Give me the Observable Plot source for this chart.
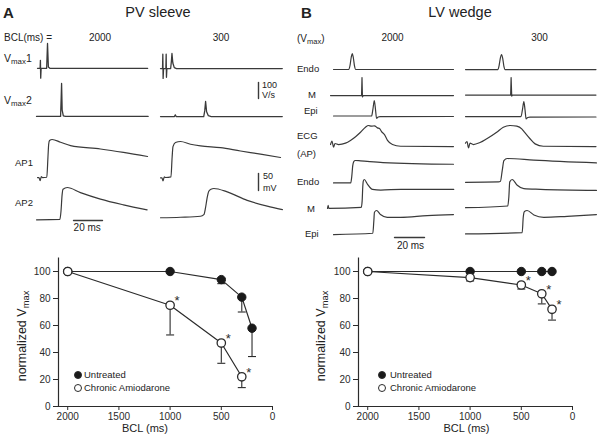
<!DOCTYPE html>
<html><head><meta charset="utf-8">
<script src="https://cdn.jsdelivr.net/npm/d3@7"></script>
<script src="https://cdn.jsdelivr.net/npm/@observablehq/plot@0.6"></script>
<style>
body{margin:0;background:#fff;}
#fig{position:relative;width:601px;height:441px;overflow:hidden;font-family:"Liberation Sans",Arial,sans-serif;color:#222;background:#fff;}
.t{position:absolute;white-space:nowrap;}
.p{position:absolute;line-height:0;}
.p svg{display:block;max-width:none;overflow:visible;}
.sub{font-size:0.75em;position:relative;top:0.3em;}
</style></head><body><div id="fig"></div>
<script>
// ================= DATA =================
const panelTitles = ["PV sleeve", "LV wedge"];
const bclColumns = ["2000", "300"];

// Panel A (PV sleeve) traces: [time (ms), value]; Vmax in V/s, AP in mV
const pvVmax1_2000 = [[0,0],[1.8,0],[2.0,50],[2.2,-62],[2.5,0],[6.3,0],[6.9,155],[7.5,8],[8.5,0],[76,0]];
const pvVmax1_300  = [[0,0],[1.4,0],[1.6,90],[1.8,-62],[2.1,0],[3.7,0],[3.9,90],[4.1,-55],[4.4,0],[7.0,0],[7.5,45],[7.9,94],[8.5,35],[9.5,6],[11,0],[84,0]];
const pvVmax2_2000 = [[0,0],[16.6,0],[17.0,110],[17.3,206],[17.7,40],[18.5,4],[20,0],[77,0]];
const pvVmax2_300  = [[0,0],[9.6,0],[10.2,10],[10.8,0],[29.8,0],[30.5,35],[31.1,94],[31.8,30],[33,5],[35,0],[84,0]];
const pvAP1_2000 = [[0,0],[1,0],[1.8,-9],[2.6,3],[3.5,0],[6.4,1],[7.2,60],[7.7,98],[8.3,109],[10.1,112],[15.9,104],[22.8,94],[43.4,84],[59.3,74],[75.9,62]];
const pvAP1_300  = [[0,0],[1,0],[1.7,-9],[2.6,3],[3.5,1],[7.2,3],[8.0,60],[8.6,92],[10.3,104],[13.8,107],[20.7,99],[27.6,94],[41.4,89],[55.2,79],[69,70],[82.8,60]];
const pvAP2_2000 = [[0,0],[16.1,1],[16.9,26],[17.6,71],[18.3,90],[21.2,95],[30.3,80],[44.1,61],[60,44],[76.3,29]];
const pvAP2_300  = [[0,0],[13.8,1.5],[27.6,4.4],[29.9,9],[31,28],[32.1,57],[33.3,78],[34.8,84],[36.8,86],[46,76],[59.8,51],[73.6,34],[84.1,24]];

// Panel B (LV wedge) traces
const lvVmaxEndo_2000 = [[0,0],[10.2,0],[11,25],[11.8,75],[12.5,100],[13.2,75],[14,22],[14.8,0],[80,0]];
const lvVmaxEndo_300  = [[0,0],[21.6,0],[22.4,25],[23.2,70],[24,94],[24.8,70],[25.6,20],[26.4,0],[87,0]];
const lvVmaxM_2000 = [[-2,0],[18.7,0],[19.0,113],[19.3,-8],[19.8,0],[80,0]];
const lvVmaxM_300  = [[0,0],[30.1,0],[30.4,110],[30.8,-6],[31.3,0],[87,0]];
const lvVmaxEpi_2000 = [[0,0],[25.4,0],[26.3,45],[27.2,97],[28,40],[28.7,-15],[29.8,-6],[31,-4],[80,-3]];
const lvVmaxEpi_300  = [[0,0],[37,0],[38,45],[38.9,94],[39.7,40],[40.4,-15],[41.5,-6],[43,-4],[87,-3]];
const lvECG_2000 = [[-2,6],[-1,16],[0,-2],[1,9],[3.3,6],[8,10],[11.3,18],[14.7,29],[18,42],[21.3,57],[23.3,62],[25.3,60],[27.3,61],[29.3,55],[30.7,53],[32,44],[34,35],[36,18],[39.3,6],[44.7,1],[80,0]];
const lvECG_300  = [[0.3,10],[1.3,15],[2.3,-4],[3.3,10],[5.5,6],[10,12],[14.5,23],[21.1,42],[25.5,57],[30,62],[34.5,60],[37.8,52],[39.3,44],[43.3,23],[46.7,8],[52.2,1],[87.3,0]];
const lvAPEndo_2000 = [[0,0],[11.5,0],[12.2,20],[12.8,50],[13.5,63],[14.5,66],[18,65],[33,60],[80,55]];
const lvAPEndo_300  = [[0,0],[22,1],[23.3,3],[24.5,35],[25.6,64],[27.8,70],[45.6,65],[87.3,57]];
const lvAPM_2000 = [[-4.2,0],[-3.8,9],[-3.3,0],[18.3,3],[18.9,22],[19.3,63],[19.7,81],[20.3,85],[22.5,71],[25.8,56],[31.3,54],[44.7,56],[80,56]];
const lvAPM_300  = [[0,0],[28.2,5],[28.9,32],[29.5,76],[31.1,83],[34.5,66],[38.9,56],[50,54],[87.3,51]];
const lvAPEpi_2000 = [[0,0],[26.2,4],[26.9,41],[27.3,66],[28.7,71],[31.3,59],[35.8,51],[44.7,51],[62.5,56],[80,59]];
const lvAPEpi_300  = [[0,2],[37.8,6],[38.5,51],[39.3,68],[41.1,71],[45.6,58],[52.2,51],[67.8,54],[87.3,59]];

// Calibration bars
const barVs = [[0,0],[0,100]];   // 100 V/s
const barMV = [[0,0],[0,50]];    // 50 mV
const barMs = [[0,0],[20,0]];    // 20 ms

// Bottom plots: normalized Vmax vs BCL
const bcl = [2000, 1000, 500, 300, 200];
const pvUntreated    = [100, 100, 94, 81, 58];
const pvUntreatedErr = [0, 0, 3, 11, 21];
const pvAmioBCL      = [2000, 1000, 500, 300];
const pvAmio         = [100, 75, 47, 22];
const pvAmioErr      = [0, 22, 15, 8];
const pvAmioSig      = [false, true, true, true];

const lvUntreated    = [100, 100, 100, 100, 100];
const lvUntreatedErr = [0, 0, 0, 0, 0];
const lvAmioBCL      = [2000, 1000, 500, 300, 200];
const lvAmio         = [100, 95.5, 90, 83.5, 72];
const lvAmioErr      = [0, 2.5, 3, 7.5, 8];
const lvAmioSig      = [false, false, true, true, true];

const yTicks = [0, 20, 40, 60, 80, 100];
const xTicks = [2000, 1500, 1000, 500, 0];
const legendLabels = ["Untreated", "Chronic Amiodarone"];

// ================= LAYOUT / DRAWING =================
const FONT = '"Liberation Sans", Arial, sans-serif';
const INK = "#2b2b2b";
const fig = document.getElementById("fig");

function place(node, left, top) {
  const d = document.createElement("div");
  d.className = "p";
  d.style.left = left + "px";
  d.style.top = top + "px";
  d.appendChild(node);
  fig.appendChild(d);
}

function label(html, x, yc, size, opt = {}) {
  const d = document.createElement("div");
  d.className = "t";
  d.innerHTML = html;
  d.style.fontSize = size + "px";
  d.style.lineHeight = size + "px";
  d.style.left = x + "px";
  d.style.top = (yc - 0.49 * size) + "px";
  if (opt.bold) d.style.fontWeight = "bold";
  if (opt.center) d.style.transform = "translateX(-50%)";
  fig.appendChild(d);
  return d;
}

// trace: x0,y0 = pixel position of (t=0, v=0); kx px/ms, ky px/unit
function trace(data, x0, y0, kx, ky, opt = {}) {
  const ts = data.map(d => d[0]), vs = data.map(d => d[1]);
  let tmin = Math.min(...ts), tmax = Math.max(...ts);
  let vmin = Math.min(...vs), vmax = Math.max(...vs);
  if (tmax === tmin) { tmin -= 1 / kx; tmax += 1 / kx; }
  if (vmax === vmin) { vmin -= 1 / ky; vmax += 1 / ky; }
  const pad = 3;
  const w = (tmax - tmin) * kx + 2 * pad, h = (vmax - vmin) * ky + 2 * pad;
  const p = Plot.plot({
    width: w, height: h, margin: pad,
    style: {background: "transparent", overflow: "visible"},
    x: {domain: [tmin, tmax], axis: null},
    y: {domain: [vmin, vmax], axis: null},
    marks: [Plot.line(data, {x: d => d[0], y: d => d[1], stroke: opt.stroke || "#3a3a3a",
      strokeWidth: opt.sw || 1.2, curve: opt.curve || "monotone-x"})]
  });
  place(p, x0 + tmin * kx - pad, y0 - vmax * ky - pad);
}

// ---------- Panel A traces ----------
const kxA = 1.45, kV = 0.16, kA = 0.34;
trace(pvVmax1_2000, 37, 68, kxA, kV, {curve: "linear", sw: 1.3});
trace(pvVmax1_300, 160, 68, kxA, kV, {curve: "linear", sw: 1.3});
trace(pvVmax2_2000, 36, 116, kxA, kV, {curve: "linear", sw: 1.3});
trace(pvVmax2_300, 160, 116, kxA, kV, {curve: "linear", sw: 1.3});
trace(pvAP1_2000, 37, 177, kxA, kA);
trace(pvAP1_300, 160, 177, kxA, kA);
trace(pvAP2_2000, 36, 219, kxA, kA);
trace(pvAP2_300, 160, 217.5, kxA, kA);
trace(barVs, 258.3, 98.3, kxA, kV, {curve: "linear", sw: 1.4});
trace(barMV, 258.3, 190, kxA, kA, {curve: "linear", sw: 1.4});
trace(barMs, 72.7, 220, kxA, kA, {curve: "linear", sw: 1.4});

// ---------- Panel B traces ----------
const kxB = 1.5;
trace(lvVmaxEndo_2000, 333, 69, kxB, kV);
trace(lvVmaxEndo_300, 465, 69, kxB, kV);
trace(lvVmaxM_2000, 333, 95, kxB, kV, {curve: "linear"});
trace(lvVmaxM_300, 465, 95, kxB, kV, {curve: "linear"});
trace(lvVmaxEpi_2000, 333, 116, kxB, kV);
trace(lvVmaxEpi_300, 465, 116, kxB, kV);
trace(lvECG_2000, 333, 146, kxB, kA);
trace(lvECG_300, 465, 146, kxB, kA);
trace(lvAPEndo_2000, 333, 182, kxB, kA);
trace(lvAPEndo_300, 465, 182, kxB, kA);
trace(lvAPM_2000, 333, 207.5, kxB, kA);
trace(lvAPM_300, 465, 207.5, kxB, kA);
trace(lvAPEpi_2000, 333, 234, kxB, kA);
trace(lvAPEpi_300, 465, 234, kxB, kA);
trace(barMs, 394.3, 236.7, kxB, kA, {curve: "linear", sw: 1.4});

// ---------- Texts ----------
const VM = 'V<span class="sub">max</span>';
label("A", 3, 12, 15, {bold: true});
label(panelTitles[0], 158, 12, 14.5, {center: true});
label("BCL(ms) =", 4, 38, 10);
label(bclColumns[0], 100, 38, 10, {center: true});
label(bclColumns[1], 221, 38, 10, {center: true});
label(VM + "1", 4, 58, 10.5);
label(VM + "2", 4, 100, 10.5);
label("100", 262, 85.5, 9);
label("V/s", 262, 95.5, 9);
label("AP1", 15, 162.7, 9.5);
label("AP2", 15, 202.3, 9.5);
label("50", 263, 176, 9);
label("mV", 263, 188.5, 9);
label("20 ms", 87.2, 228, 10, {center: true});

label("B", 301, 12, 15, {bold: true});
label(panelTitles[1], 460, 12, 14.5, {center: true});
label("(" + VM + ")", 297, 38.5, 10);
label(bclColumns[0], 392.5, 38, 10, {center: true});
label(bclColumns[1], 539.5, 38, 10, {center: true});
label("Endo", 297, 68.5, 9.5);
label("M", 308, 94.5, 9.5);
label("Epi", 304, 110.7, 9.5);
label("ECG", 297, 136, 9.5);
label("(AP)", 297, 153.7, 9.5);
label("Endo", 297, 181.3, 9.5);
label("M", 307, 208.8, 9.5);
label("Epi", 305, 234, 9.5);
label("20 ms", 410.5, 245.5, 10, {center: true});

// ---------- Bottom plots ----------
const xLeft = 2090, yTop = 110;
const capSymbol = {draw(ctx, size) { const r = Math.sqrt(size / Math.PI); ctx.moveTo(-r, 0); ctx.lineTo(r, 0); }};

function vmaxPlot(bclU, untreated, untreatedErr, bclA, amio, amioErr, sig) {
  const U = bclU.map((b, i) => ({bcl: b, v: untreated[i], e: untreatedErr[i]}));
  const A = bclA.map((b, i) => ({bcl: b, v: amio[i], e: amioErr[i], s: sig[i]}));
  const errs = U.concat(A).filter(d => d.e > 0);
  return Plot.plot({
    width: 290, height: 196,
    marginLeft: 58, marginRight: 18, marginTop: 12.5, marginBottom: 35,
    style: {fontFamily: FONT, fontSize: "10px", color: INK, background: "transparent", overflow: "visible"},
    x: {domain: [xLeft, 0], ticks: xTicks, tickSize: 4, tickPadding: 2, tickFormat: d3.format("d"), label: null},
    y: {domain: [0, yTop], ticks: yTicks, tickSize: 5, tickPadding: 3, tickFormat: d3.format("d"), label: null},
    marks: [
      Plot.ruleY([0], {stroke: INK, strokeWidth: 1.2}),
      Plot.ruleX([xLeft], {stroke: INK, strokeWidth: 1.2}),
      Plot.ruleX(errs, {x: "bcl", y1: d => d.v - d.e, y2: "v", stroke: INK, strokeWidth: 1.1}),
      Plot.dot(errs, {x: "bcl", y: d => d.v - d.e, symbol: capSymbol, r: 4, stroke: INK, strokeWidth: 1.1, fill: "none"}),
      Plot.line(U, {x: "bcl", y: "v", stroke: INK, strokeWidth: 1.2}),
      Plot.line(A, {x: "bcl", y: "v", stroke: INK, strokeWidth: 1.2}),
      Plot.dot(U, {x: "bcl", y: "v", r: 4.2, fill: "#1a1a1a", stroke: "#1a1a1a", strokeWidth: 1}),
      Plot.dot(A, {x: "bcl", y: "v", r: 4.2, fill: "white", stroke: INK, strokeWidth: 1.3}),
      Plot.text(A.filter(d => d.s), {x: "bcl", y: "v", text: () => "*", dx: 7, dy: -4, fontSize: 13, fill: INK})
    ]
  });
}

place(vmaxPlot(bcl, pvUntreated, pvUntreatedErr, pvAmioBCL, pvAmio, pvAmioErr, pvAmioSig), 0, 245);
place(vmaxPlot(bcl, lvUntreated, lvUntreatedErr, lvAmioBCL, lvAmio, lvAmioErr, lvAmioSig), 300, 245);

function ylabel(xc, yc) {
  const d = document.createElement("div");
  d.className = "t";
  d.innerHTML = "normalized " + VM;
  d.style.fontSize = "12.5px";
  d.style.lineHeight = "12.5px";
  d.style.left = xc + "px";
  d.style.top = yc + "px";
  d.style.transform = "translate(-50%,-50%) rotate(-90deg)";
  fig.appendChild(d);
}
ylabel(23, 336);
ylabel(322, 336);
label("BCL (ms)", 145, 428.3, 11, {center: true});
label("BCL (ms)", 466.5, 428.3, 11, {center: true});

function legend(cx, tx) {
  const ys = [375, 387.7];
  const fills = ["#1a1a1a", "white"];
  legendLabels.forEach((t, i) => {
    const c = document.createElement("div");
    c.style.cssText = `position:absolute;left:${cx - 4}px;top:${ys[i] - 4}px;width:6px;height:6px;border-radius:50%;border:1.2px solid ${INK};background:${fills[i]};`;
    fig.appendChild(c);
    label(t, tx, ys[i], 9.5);
  });
}
legend(78, 84);
legend(382, 390);
</script></body></html>
